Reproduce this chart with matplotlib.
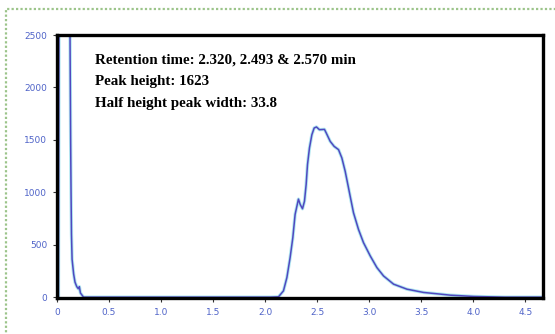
import matplotlib
matplotlib.use("Agg")
import matplotlib.pyplot as plt
from matplotlib.patches import Rectangle

# Chromatogram trace (time in min, detector signal)
time = [0.000, 0.014, 0.020, 0.120, 0.125, 0.128, 0.131, 0.135, 0.139, 0.145,
        0.160, 0.173, 0.190, 0.205, 0.215, 0.225, 0.255, 0.500, 1.900, 2.050,
        2.128, 2.176, 2.209, 2.240, 2.266, 2.288, 2.320, 2.337, 2.359, 2.378,
        2.394, 2.407, 2.426, 2.449, 2.471, 2.493, 2.522, 2.570, 2.587, 2.625,
        2.663, 2.705, 2.737, 2.769, 2.801, 2.817, 2.849, 2.897, 2.945, 3.010,
        3.074, 3.138, 3.234, 3.363, 3.522, 3.683, 3.779, 4.003, 4.300, 4.670]
signal = [0, 0, 3000, 3000, 2500, 2000, 1500, 1000, 600, 360,
          220, 143, 100, 80, 100, 40, 0, 0, 0, 0,
          3, 60, 187, 377, 567, 789, 935, 884, 843, 915,
          1074, 1264, 1423, 1549, 1613, 1623, 1597, 1600, 1566, 1486,
          1438, 1407, 1328, 1201, 1043, 963, 805, 646, 520, 393,
          282, 202, 124, 76, 45, 29, 19, 7, 0, 0]

xticks = [0, 0.5, 1.0, 1.5, 2.0, 2.5, 3.0, 3.5, 4.0, 4.5]
xtick_labels = ["0", "0.5", "1.0", "1.5", "2.0", "2.5", "3.0", "3.5", "4.0", "4.5"]
yticks = [0, 500, 1000, 1500, 2000, 2500]
ytick_labels = ["0", "500", "1000", "1500", "2000", "2500"]

info_lines = ["Retention time: 2.320, 2.493 & 2.570 min",
              "Peak height: 1623",
              "Half height peak width: 33.8"]

fig = plt.figure(figsize=(5.55, 3.34), dpi=100)
fig.patch.set_facecolor("white")

# outer frame
fig.patches.append(Rectangle((6 / 555, -0.05), 1.1, 1 - 9 / 334 + 0.05,
                             transform=fig.transFigure, fill=False,
                             edgecolor="#9cc48a", lw=1.6, linestyle=(0, (1, 1))))

ax = fig.add_axes([57 / 555, 1 - 298 / 334, (543 - 57) / 555, (298 - 35) / 334])
ax.plot(time, signal, color="#7fd8e8", lw=2.4, alpha=0.6, solid_capstyle="round",
        solid_joinstyle="round")
ax.plot(time, signal, color="#5048c0", lw=1.1, solid_joinstyle="round")

ax.set_xlim(0, 4.67)
ax.set_ylim(-8, 2500)
ax.set_xticks(xticks)
ax.set_xticklabels(xtick_labels)
ax.set_yticks(yticks)
ax.set_yticklabels(ytick_labels)
ax.tick_params(axis="both", direction="out", length=3, width=0.8, color="#333333",
               labelsize=6.5, labelcolor="#4f63c8", pad=4)

for side in ["left", "right", "top", "bottom"]:
    ax.spines[side].set_linewidth(2.4)
    ax.spines[side].set_color("black")

# annotation block
for i, line in enumerate(info_lines):
    fig.text(95 / 555, 1 - (60 + i * 21.5) / 334, line, fontsize=10.8,
             fontweight="bold", family="Liberation Serif", va="center",
             ha="left", color="black")

fig.savefig("out.png", dpi=100)
